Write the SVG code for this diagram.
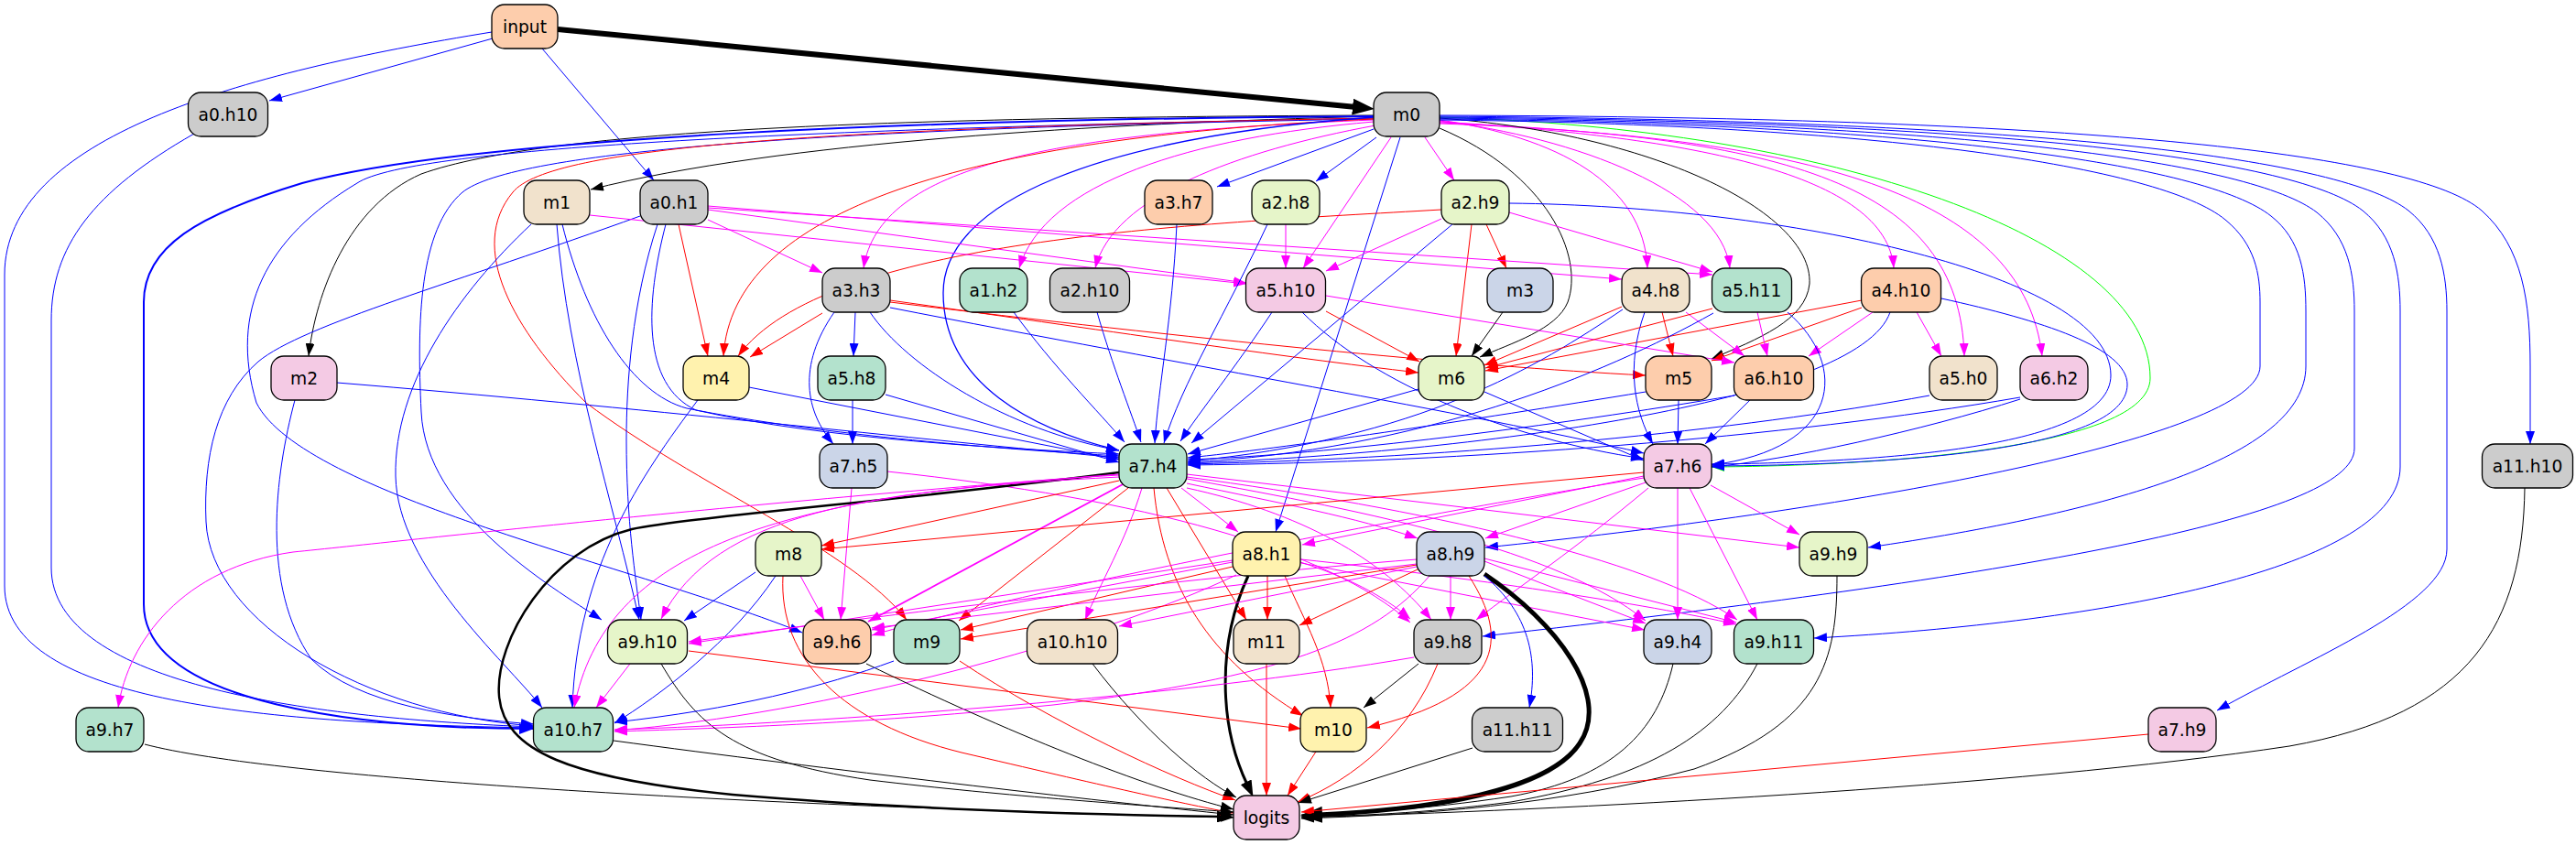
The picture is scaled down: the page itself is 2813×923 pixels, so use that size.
<svg xmlns="http://www.w3.org/2000/svg" width="2813" height="923" viewBox="0 0 2813 923">
<style>
.edges path{fill:none;stroke-width:1}
.edges .k{stroke:#000;marker-end:url(#ak)}
.edges .b{stroke:#00f;marker-end:url(#ab)}
.edges .r{stroke:#f00;marker-end:url(#ar)}
.edges .m{stroke:#f0f;marker-end:url(#am)}
.edges .g{stroke:#0f0;marker-end:url(#ag)}
.node rect{stroke:#000;stroke-width:1.3}
.node text{font-family:"DejaVu Sans","Liberation Sans",sans-serif;font-size:18.67px;text-anchor:middle;fill:#000}
</style>
<defs>
<marker id="ak" viewBox="0 0 14 10" refX="14" refY="5" markerWidth="14" markerHeight="10" markerUnits="userSpaceOnUse" orient="auto"><path d="M0,0 L14,5 L0,10 z" fill="#000"/></marker>
<marker id="ab" viewBox="0 0 14 10" refX="14" refY="5" markerWidth="14" markerHeight="10" markerUnits="userSpaceOnUse" orient="auto"><path d="M0,0 L14,5 L0,10 z" fill="#00f"/></marker>
<marker id="abm" viewBox="0 0 16 12" refX="16" refY="6" markerWidth="16" markerHeight="12" markerUnits="userSpaceOnUse" orient="auto"><path d="M0,0 L16,6 L0,12 z" fill="#00f"/></marker>
<marker id="ar" viewBox="0 0 14 10" refX="14" refY="5" markerWidth="14" markerHeight="10" markerUnits="userSpaceOnUse" orient="auto"><path d="M0,0 L14,5 L0,10 z" fill="#f00"/></marker>
<marker id="am" viewBox="0 0 14 10" refX="14" refY="5" markerWidth="14" markerHeight="10" markerUnits="userSpaceOnUse" orient="auto"><path d="M0,0 L14,5 L0,10 z" fill="#f0f"/></marker>
<marker id="ag" viewBox="0 0 14 10" refX="14" refY="5" markerWidth="14" markerHeight="10" markerUnits="userSpaceOnUse" orient="auto"><path d="M0,0 L14,5 L0,10 z" fill="#0f0"/></marker>
<marker id="akm" viewBox="0 0 18 13" refX="3" refY="6.5" markerWidth="18" markerHeight="13" markerUnits="userSpaceOnUse" orient="auto"><path d="M0,0 L18,6.5 L0,13 z" fill="#000"/></marker>
<marker id="akt" viewBox="0 0 24 18" refX="4" refY="9" markerWidth="24" markerHeight="18" markerUnits="userSpaceOnUse" orient="auto"><path d="M0,0 L24,9 L0,18 z" fill="#000"/></marker>
</defs>
<rect width="2813" height="923" fill="#fff"/>
<g id="connectors" class="edges">
<path class="k" style="stroke-width:6;marker-end:url(#akt)" d="M609,32 L1481,117"/>
<path class="b" d="M538,42 L294,110"/>
<path class="b" d="M592,53 L714,197"/>
<path class="b" d="M537,35 C 260,80 5,150 5,300 L5,640 C 5,770 300,790 583,795"/>
<path class="b" d="M212,146 C 100,210 56,270 56,350 L56,620 C 56,750 350,785 583,794"/>
<path class="k" d="M1500,127 C 1200,135 850,155 645,207"/>
<path class="k" d="M1500,126 C 1000,128 600,140 460,190 C 380,225 345,320 337,389"/>
<path class="b" style="stroke-width:2;marker-end:url(#abm)" d="M1500,127 C 1000,130 520,150 330,200 C 215,235 157,270 157,330 L157,660 C 157,770 400,796 583,796"/>
<path class="b" d="M1500,130 C 900,140 560,165 505,210 C 458,250 455,350 460,450 C 465,560 600,640 657,677"/>
<path class="b" d="M1500,129 C 900,140 450,160 390,200 C 290,260 250,340 280,440 C 330,540 700,620 876,691"/>
<path class="r" d="M1500,129 C 900,140 600,160 560,210 C 510,270 560,360 640,440 C 760,530 930,600 990,677"/>
<path class="m" d="M1500,131 C 1150,145 960,180 943,293"/>
<path class="r" d="M1500,130 C 1050,150 800,230 790,389"/>
<path class="m" d="M1500,133 C 1300,150 1140,200 1113,293"/>
<path class="m" d="M1502,137 C 1350,165 1215,215 1196,293"/>
<path class="b" d="M1500,141 L1329,204"/>
<path class="b" d="M1503,150 L1437,198"/>
<path class="b" style="stroke-width:1.3" d="M1500,128 C 1200,150 1030,220 1030,320 C 1030,420 1130,470 1222,492"/>
<path class="m" d="M1556,150 L1588,197"/>
<path class="m" d="M1519,150 L1423,293"/>
<path class="b" d="M1529,150 L1393,581"/>
<path class="m" d="M1572,131 C 1700,150 1795,200 1799,293"/>
<path class="m" d="M1572,132 C 1720,150 1880,210 1889,293"/>
<path class="m" d="M1572,133 C 1850,150 2060,190 2068,293"/>
<path class="m" d="M1572,134 C 1950,150 2140,200 2145,389"/>
<path class="m" d="M1572,135 C 2000,150 2210,220 2230,389"/>
<path class="g" d="M1572,128 C 2000,140 2348,260 2348,413 C 2348,490 2050,509 1869,510"/>
<path class="k" d="M1572,140 C 1690,190 1730,280 1712,330 C 1700,360 1650,375 1616,390"/>
<path class="k" d="M1572,129 C 1800,145 1980,230 1976,310 C 1972,350 1920,370 1869,392"/>
<path class="b" d="M1572,126 C 2300,128 2640,170 2710,230 C 2755,270 2763,330 2763,400 L2763,485"/>
<path class="b" d="M1572,127 C 2250,132 2560,175 2630,230 C 2665,258 2672,300 2672,340 L2672,600 C 2672,660 2520,720 2421,776"/>
<path class="b" d="M1572,128 C 2200,133 2510,175 2580,230 C 2615,258 2621,300 2621,340 L2621,510 C 2621,620 2300,680 1981,697"/>
<path class="b" d="M1572,129 C 2150,134 2460,178 2530,232 C 2565,260 2571,300 2571,340 L2571,490 C 2571,565 2200,630 1619,695"/>
<path class="b" d="M1572,130 C 2100,135 2410,180 2480,236 C 2513,262 2518,300 2518,340 L2518,400 C 2518,500 2300,560 2040,598"/>
<path class="b" d="M1572,131 C 2050,136 2360,182 2430,240 C 2463,267 2468,300 2468,330 L2468,400 C 2468,480 2000,560 1622,598"/>
<path class="r" d="M1574,229 C 1300,245 900,260 806,389"/>
<path class="m" d="M1574,239 L1448,296"/>
<path class="b" d="M1586,245 L1301,484"/>
<path class="r" d="M1607,245 L1590,389"/>
<path class="r" d="M1623,245 L1645,293"/>
<path class="m" d="M1648,232 L1870,297"/>
<path class="b" d="M1648,222 C 1950,225 2305,300 2305,410 C 2305,490 2050,505 1869,507"/>
<path class="b" d="M2120,326 C 2230,350 2323,380 2323,420 C 2323,495 2050,508 1869,509"/>
<path class="r" d="M2033,328 L1622,405"/>
<path class="r" d="M2033,336 L1869,394"/>
<path class="m" d="M2045,341 L1975,389"/>
<path class="m" d="M2093,341 L2120,389"/>
<path class="b" d="M2064,341 C 2030,440 1600,495 1297,506"/>
<path class="r" d="M741,245 L773,389"/>
<path class="m" d="M773,240 L898,298"/>
<path class="m" d="M773,229 L1361,309"/>
<path class="m" d="M773,225 L1771,305"/>
<path class="m" d="M773,227 L1870,300"/>
<path class="b" d="M699,236 C 500,308 330,355 282,395 C 236,435 222,500 225,570 C 230,680 400,780 583,793"/>
<path class="b" d="M718,245 C 690,330 684,420 684,480 C 684,570 694,630 700,677"/>
<path class="b" d="M727,245 C 705,330 700,420 760,448 C 900,480 1100,490 1222,496"/>
<path class="m" d="M644,235 L1361,310"/>
<path class="b" d="M580,245 C 500,320 430,420 432,520 C 434,620 550,720 592,773"/>
<path class="b" d="M608,245 C 620,400 670,550 698,677"/>
<path class="b" d="M614,245 C 640,350 690,430 750,446 C 900,476 1100,491 1222,498"/>
<path class="b" d="M368,418 C 700,445 1000,480 1222,500"/>
<path class="b" d="M322,437 C 300,520 285,640 340,720 C 390,770 500,785 583,791"/>
<path class="b" d="M1285,245 C 1280,350 1265,420 1261,484"/>
<path class="m" d="M1404,245 L1404,293"/>
<path class="b" d="M1384,245 C 1340,340 1290,420 1271,484"/>
<path class="r" d="M898,342 L819,390"/>
<path class="b" d="M934,341 L932,389"/>
<path class="b" d="M911,341 C 870,400 880,450 910,485"/>
<path class="b" d="M950,341 C 990,400 1100,470 1222,492"/>
<path class="r" d="M972,328 C 1200,360 1400,390 1549,407"/>
<path class="r" d="M972,330 C 1300,370 1600,400 1797,410"/>
<path class="b" d="M972,336 C 1300,400 1600,450 1795,495"/>
<path class="b" d="M1107,341 C 1150,400 1200,450 1228,483"/>
<path class="b" d="M1198,341 C 1215,400 1235,450 1246,483"/>
<path class="b" d="M1389,341 C 1350,400 1310,450 1289,482"/>
<path class="r" d="M1448,340 L1550,395"/>
<path class="m" d="M1448,323 L1894,396"/>
<path class="b" d="M1422,341 C 1500,420 1650,480 1795,501"/>
<path class="k" d="M1641,341 L1607,389"/>
<path class="r" d="M1771,335 L1621,399"/>
<path class="r" d="M1815,341 L1827,389"/>
<path class="m" d="M1841,341 L1905,389"/>
<path class="b" d="M1796,341 C 1775,400 1785,450 1805,485"/>
<path class="b" d="M1772,338 C 1680,400 1550,480 1297,504"/>
<path class="r" d="M1870,337 L1622,402"/>
<path class="m" d="M1919,341 L1930,389"/>
<path class="b" d="M1952,341 C 2020,400 2010,490 1869,508"/>
<path class="b" d="M1871,342 C 1750,410 1550,492 1297,505"/>
<path class="b" d="M818,423 L1222,502"/>
<path class="b" d="M762,437 C 700,520 630,620 625,773"/>
<path class="b" d="M931,437 L931,485"/>
<path class="b" d="M967,431 L1222,505"/>
<path class="b" d="M1549,425 L1297,496"/>
<path class="b" d="M1621,428 L1795,503"/>
<path class="b" d="M1797,428 C 1600,460 1400,490 1297,500"/>
<path class="b" d="M1833,437 L1832,485"/>
<path class="b" d="M1894,432 C 1700,465 1450,497 1297,502"/>
<path class="b" d="M1911,437 L1862,485"/>
<path class="b" d="M2107,432 C 1900,470 1600,500 1297,507"/>
<path class="b" d="M2206,434 C 1950,478 1600,505 1297,508"/>
<path class="b" d="M2206,436 C 2100,470 1950,503 1869,510"/>
<path class="m" d="M930,533 L918,677"/>
<path class="m" d="M969,515 C 1250,545 1450,600 1540,680"/>
<path class="k" style="stroke-width:2.5;marker-end:url(#akm)" d="M1222,516 C 1000,545 750,565 690,578 C 600,600 540,700 545,760 C 550,820 620,850 800,868 C 1000,885 1200,890 1332,892"/>
<path class="r" d="M1222,525 L897,596"/>
<path class="m" style="stroke-width:1.8" d="M1228,528 L948,679"/>
<path class="r" d="M1232,533 L1047,678"/>
<path class="m" d="M1247,533 C 1230,590 1200,640 1185,677"/>
<path class="r" d="M1274,533 L1361,677"/>
<path class="r" d="M1260,533 C 1270,640 1320,720 1423,782"/>
<path class="m" d="M1290,533 L1352,581"/>
<path class="m" d="M1296,528 C 1400,550 1480,565 1548,588"/>
<path class="m" d="M1296,533 C 1420,560 1510,610 1563,677"/>
<path class="m" d="M1296,523 C 1500,560 1700,600 1797,678"/>
<path class="m" d="M1296,521 C 1550,555 1800,610 1897,677"/>
<path class="m" d="M1296,518 L1965,598"/>
<path class="m" d="M1222,521 C 950,535 780,560 722,676"/>
<path class="m" d="M1222,519 C 850,540 660,600 627,773"/>
<path class="m" d="M1222,518 C 800,550 450,590 320,603 C 200,620 140,700 129,773"/>
<path class="r" d="M1795,516 L897,600"/>
<path class="m" d="M1795,520 L1422,595"/>
<path class="m" d="M1797,527 L1622,588"/>
<path class="m" d="M1800,533 C 1720,600 1660,640 1612,677"/>
<path class="m" d="M1832,533 L1832,677"/>
<path class="m" d="M1845,533 L1919,677"/>
<path class="m" d="M1868,530 L1965,584"/>
<path class="m" d="M1795,522 C 1500,570 1100,650 952,694"/>
<path class="k" d="M2006,629 C 2006,720 1990,790 1850,840 C 1700,880 1550,890 1421,894"/>
<path class="b" d="M825,625 L747,678"/>
<path class="b" d="M847,629 C 800,700 720,760 671,790"/>
<path class="m" d="M874,629 L900,677"/>
<path class="r" d="M855,629 C 850,720 920,790 1050,822 C 1200,857 1300,880 1347,888"/>
<path class="k" style="stroke-width:3;marker-end:url(#akm)" d="M1363,629 C 1330,700 1330,790 1362,857"/>
<path class="r" d="M1384,629 L1384,677"/>
<path class="r" d="M1403,629 C 1425,680 1450,720 1453,773"/>
<path class="m" d="M1420,614 C 1470,630 1510,650 1540,676"/>
<path class="m" d="M1421,615 L1796,688"/>
<path class="m" d="M1421,611 C 1600,630 1800,660 1896,682"/>
<path class="m" d="M1346,614 L952,688"/>
<path class="m" d="M1346,612 L752,703"/>
<path class="r" d="M1346,619 L1049,688"/>
<path class="m" d="M1350,628 C 1200,700 900,780 671,798"/>
<path class="k" style="stroke-width:5;marker-end:url(#akt)" d="M1621,627 C 1700,680 1760,760 1725,812 C 1690,865 1560,884 1440,890"/>
<path class="b" d="M1621,629 C 1670,670 1680,720 1670,773"/>
<path class="m" d="M1584,629 L1584,677"/>
<path class="r" d="M1604,629 C 1650,700 1640,760 1493,795"/>
<path class="r" d="M1548,622 L1419,683"/>
<path class="r" d="M1547,617 L1049,698"/>
<path class="m" d="M1547,611 C 1300,630 900,680 752,701"/>
<path class="m" d="M1547,616 L952,686"/>
<path class="m" d="M1547,619 L1222,684"/>
<path class="m" d="M1621,613 L1797,681"/>
<path class="m" d="M1621,610 L1896,680"/>
<path class="m" d="M1561,629 C 1500,700 1400,740 1150,770 C 950,790 800,795 671,799"/>
<path class="m" d="M688,725 L651,773"/>
<path class="r" d="M752,711 L1421,796"/>
<path class="k" d="M722,725 C 760,790 800,830 950,852 C 1100,870 1250,880 1347,887"/>
<path class="k" d="M946,725 C 1100,800 1250,860 1347,884"/>
<path class="b" d="M976,722 C 900,750 800,775 671,789"/>
<path class="r" d="M1048,722 C 1150,790 1280,850 1349,874"/>
<path class="k" d="M1193,725 C 1250,800 1310,850 1350,871"/>
<path class="r" d="M1383,725 L1383,869"/>
<path class="k" d="M1549,725 L1489,773"/>
<path class="r" d="M1570,725 C 1540,800 1480,850 1417,876"/>
<path class="m" d="M1544,718 C 1300,760 900,790 671,797"/>
<path class="k" d="M1827,725 C 1810,800 1760,850 1650,870 C 1550,885 1480,888 1421,890"/>
<path class="k" d="M1919,725 C 1880,800 1800,850 1650,876 C 1550,889 1480,891 1421,892"/>
<path class="k" d="M158,813 C 300,850 800,880 1347,893"/>
<path class="k" d="M670,809 C 900,840 1200,875 1347,890"/>
<path class="r" d="M1437,821 L1406,869"/>
<path class="k" d="M1608,817 L1418,877"/>
<path class="r" d="M2346,802 L1421,887"/>
<path class="k" d="M2757,533 C 2755,680 2700,780 2500,815 C 2200,860 1700,885 1421,893"/>
</g>
<g id="node-input" class="node"><rect x="537" y="5" width="72" height="48" rx="14" fill="#fdcdac"/><text x="573" y="35.5">input</text></g>
<g id="node-m0" class="node"><rect x="1500" y="101" width="72" height="48" rx="14" fill="#cccccc"/><text x="1536" y="131.5">m0</text></g>
<g id="node-a0.h10" class="node"><rect x="205.5" y="101" width="87" height="48" rx="14" fill="#cccccc"/><text x="249" y="131.5">a0.h10</text></g>
<g id="node-m1" class="node"><rect x="572" y="197" width="72" height="48" rx="14" fill="#f1e2cc"/><text x="608" y="227.5">m1</text></g>
<g id="node-a0.h1" class="node"><rect x="699" y="197" width="74" height="48" rx="14" fill="#cccccc"/><text x="736" y="227.5">a0.h1</text></g>
<g id="node-a3.h7" class="node"><rect x="1250" y="197" width="74" height="48" rx="14" fill="#fdcdac"/><text x="1287" y="227.5">a3.h7</text></g>
<g id="node-a2.h8" class="node"><rect x="1367" y="197" width="74" height="48" rx="14" fill="#e6f5c9"/><text x="1404" y="227.5">a2.h8</text></g>
<g id="node-a2.h9" class="node"><rect x="1574" y="197" width="74" height="48" rx="14" fill="#e6f5c9"/><text x="1611" y="227.5">a2.h9</text></g>
<g id="node-a3.h3" class="node"><rect x="898" y="293" width="74" height="48" rx="14" fill="#cccccc"/><text x="935" y="323.5">a3.h3</text></g>
<g id="node-a1.h2" class="node"><rect x="1048" y="293" width="74" height="48" rx="14" fill="#b3e2cd"/><text x="1085" y="323.5">a1.h2</text></g>
<g id="node-a2.h10" class="node"><rect x="1146.5" y="293" width="87" height="48" rx="14" fill="#cccccc"/><text x="1190" y="323.5">a2.h10</text></g>
<g id="node-a5.h10" class="node"><rect x="1360.5" y="293" width="87" height="48" rx="14" fill="#f4cae4"/><text x="1404" y="323.5">a5.h10</text></g>
<g id="node-m3" class="node"><rect x="1624" y="293" width="72" height="48" rx="14" fill="#cbd5e8"/><text x="1660" y="323.5">m3</text></g>
<g id="node-a4.h8" class="node"><rect x="1771" y="293" width="74" height="48" rx="14" fill="#f1e2cc"/><text x="1808" y="323.5">a4.h8</text></g>
<g id="node-a5.h11" class="node"><rect x="1869.5" y="293" width="87" height="48" rx="14" fill="#b3e2cd"/><text x="1913" y="323.5">a5.h11</text></g>
<g id="node-a4.h10" class="node"><rect x="2032.5" y="293" width="87" height="48" rx="14" fill="#fdcdac"/><text x="2076" y="323.5">a4.h10</text></g>
<g id="node-m2" class="node"><rect x="296" y="389" width="72" height="48" rx="14" fill="#f4cae4"/><text x="332" y="419.5">m2</text></g>
<g id="node-m4" class="node"><rect x="746" y="389" width="72" height="48" rx="14" fill="#fff2ae"/><text x="782" y="419.5">m4</text></g>
<g id="node-a5.h8" class="node"><rect x="893" y="389" width="74" height="48" rx="14" fill="#b3e2cd"/><text x="930" y="419.5">a5.h8</text></g>
<g id="node-m6" class="node"><rect x="1549" y="389" width="72" height="48" rx="14" fill="#e6f5c9"/><text x="1585" y="419.5">m6</text></g>
<g id="node-m5" class="node"><rect x="1797" y="389" width="72" height="48" rx="14" fill="#fdcdac"/><text x="1833" y="419.5">m5</text></g>
<g id="node-a6.h10" class="node"><rect x="1893.5" y="389" width="87" height="48" rx="14" fill="#fdcdac"/><text x="1937" y="419.5">a6.h10</text></g>
<g id="node-a5.h0" class="node"><rect x="2107" y="389" width="74" height="48" rx="14" fill="#f1e2cc"/><text x="2144" y="419.5">a5.h0</text></g>
<g id="node-a6.h2" class="node"><rect x="2206" y="389" width="74" height="48" rx="14" fill="#f4cae4"/><text x="2243" y="419.5">a6.h2</text></g>
<g id="node-a7.h5" class="node"><rect x="895" y="485" width="74" height="48" rx="14" fill="#cbd5e8"/><text x="932" y="515.5">a7.h5</text></g>
<g id="node-a7.h4" class="node"><rect x="1222" y="485" width="74" height="48" rx="14" fill="#b3e2cd"/><text x="1259" y="515.5">a7.h4</text></g>
<g id="node-a7.h6" class="node"><rect x="1795" y="485" width="74" height="48" rx="14" fill="#f4cae4"/><text x="1832" y="515.5">a7.h6</text></g>
<g id="node-a11.h10" class="node"><rect x="2710.5" y="485" width="99" height="48" rx="14" fill="#cccccc"/><text x="2760" y="515.5">a11.h10</text></g>
<g id="node-m8" class="node"><rect x="825" y="581" width="72" height="48" rx="14" fill="#e6f5c9"/><text x="861" y="611.5">m8</text></g>
<g id="node-a8.h1" class="node"><rect x="1346" y="581" width="74" height="48" rx="14" fill="#fff2ae"/><text x="1383" y="611.5">a8.h1</text></g>
<g id="node-a8.h9" class="node"><rect x="1547" y="581" width="74" height="48" rx="14" fill="#cbd5e8"/><text x="1584" y="611.5">a8.h9</text></g>
<g id="node-a9.h9" class="node"><rect x="1965" y="581" width="74" height="48" rx="14" fill="#e6f5c9"/><text x="2002" y="611.5">a9.h9</text></g>
<g id="node-a9.h10" class="node"><rect x="663.5" y="677" width="87" height="48" rx="14" fill="#e6f5c9"/><text x="707" y="707.5">a9.h10</text></g>
<g id="node-a9.h6" class="node"><rect x="877" y="677" width="74" height="48" rx="14" fill="#fdcdac"/><text x="914" y="707.5">a9.h6</text></g>
<g id="node-m9" class="node"><rect x="976" y="677" width="72" height="48" rx="14" fill="#b3e2cd"/><text x="1012" y="707.5">m9</text></g>
<g id="node-a10.h10" class="node"><rect x="1121.5" y="677" width="99" height="48" rx="14" fill="#f1e2cc"/><text x="1171" y="707.5">a10.h10</text></g>
<g id="node-m11" class="node"><rect x="1347" y="677" width="72" height="48" rx="14" fill="#f1e2cc"/><text x="1383" y="707.5">m11</text></g>
<g id="node-a9.h8" class="node"><rect x="1544" y="677" width="74" height="48" rx="14" fill="#cccccc"/><text x="1581" y="707.5">a9.h8</text></g>
<g id="node-a9.h4" class="node"><rect x="1795" y="677" width="74" height="48" rx="14" fill="#cbd5e8"/><text x="1832" y="707.5">a9.h4</text></g>
<g id="node-a9.h11" class="node"><rect x="1893.5" y="677" width="87" height="48" rx="14" fill="#b3e2cd"/><text x="1937" y="707.5">a9.h11</text></g>
<g id="node-a9.h7" class="node"><rect x="83" y="773" width="74" height="48" rx="14" fill="#b3e2cd"/><text x="120" y="803.5">a9.h7</text></g>
<g id="node-a10.h7" class="node"><rect x="582.5" y="773" width="87" height="48" rx="14" fill="#b3e2cd"/><text x="626" y="803.5">a10.h7</text></g>
<g id="node-m10" class="node"><rect x="1420" y="773" width="72" height="48" rx="14" fill="#fff2ae"/><text x="1456" y="803.5">m10</text></g>
<g id="node-a11.h11" class="node"><rect x="1607.5" y="773" width="99" height="48" rx="14" fill="#cccccc"/><text x="1657" y="803.5">a11.h11</text></g>
<g id="node-a7.h9" class="node"><rect x="2346" y="773" width="74" height="48" rx="14" fill="#f4cae4"/><text x="2383" y="803.5">a7.h9</text></g>
<g id="node-logits" class="node"><rect x="1347" y="869" width="72" height="48" rx="14" fill="#f4cae4"/><text x="1383" y="899.5">logits</text></g>
</svg>
